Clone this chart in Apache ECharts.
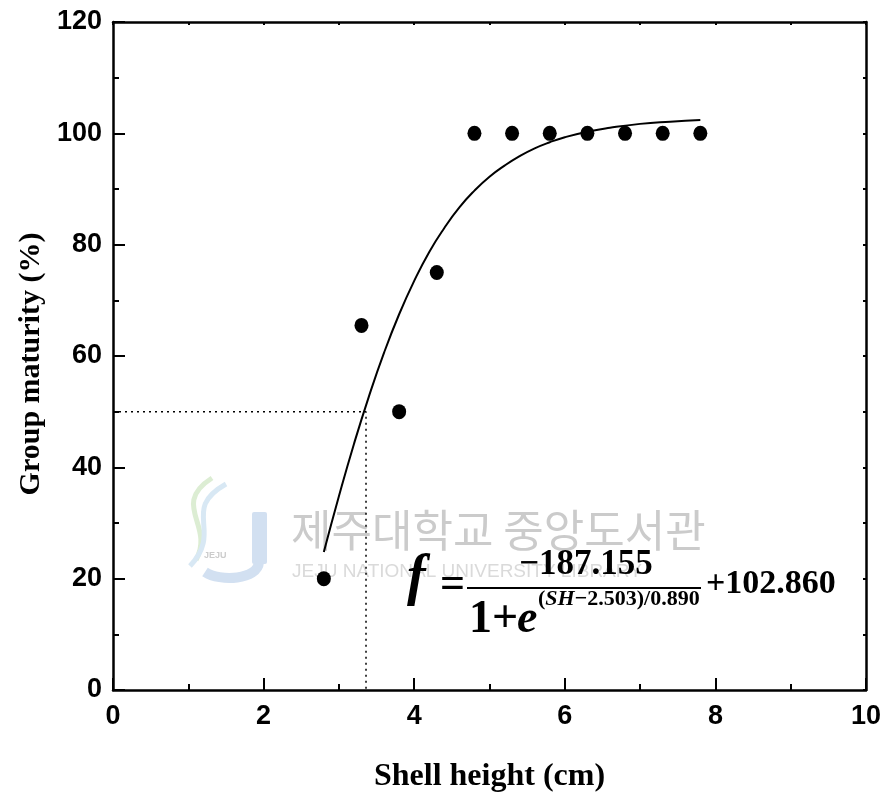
<!DOCTYPE html>
<html>
<head>
<meta charset="utf-8">
<script src="https://cdn.jsdelivr.net/npm/echarts@6/dist/echarts.min.js"></script>
<style>
  html, body { margin: 0; padding: 0; background: #fff; }
  #charts { width: 889px; height: 802px; }
</style>
</head>
<body>
<div id="charts"></div>
<script>
// observed points
var shellHeight = [2.8, 3.3, 3.8, 4.3, 4.8, 5.3, 5.8, 6.3, 6.8, 7.3, 7.8];
var maturity = [20, 65.5, 50, 75, 100, 100, 100, 100, 100, 100, 100];

// fitted curve
var curveX = [2.8, 3.0, 3.2, 3.4, 3.6, 3.8, 4.0, 4.2, 4.4, 4.6, 4.8, 5.0, 5.2, 5.4, 5.6, 5.8, 6.0, 6.3, 6.6, 7.0, 7.4, 7.8];
var curveY = [24.8, 34.8, 44.2, 52.8, 60.6, 67.5, 73.5, 78.7, 83.0, 86.7, 89.7, 92.2, 94.2, 95.9, 97.3, 98.4, 99.3, 100.3, 101.0, 101.7, 102.1, 102.4];

// 50% maturity guide
var guideX = [0, 3.36, 3.36];
var guideY = [50, 50, 0];

var pts = shellHeight.map(function (x, i) { return [x, maturity[i]]; });
var curve = curveX.map(function (x, i) { return [x, curveY[i]]; });
var guide = guideX.map(function (x, i) { return [x, guideY[i]]; });

var serif = '"Liberation Serif", "Times New Roman", serif';
var sans = '"Liberation Sans", Arial, sans-serif';

var myChart = echarts.init(document.getElementById('charts'));
var option = {
    animation: false,
    backgroundColor: '#fff',
    grid: {
        left: 113,
        right: 23,
        top: 22,
        bottom: 112,
        outerBoundsMode: 'none',
        containLabel: false
    },
    xAxis: [
        {
            type: 'value',
            min: 0,
            max: 10,
            interval: 2,
            name: 'Shell height (cm)',
            nameLocation: 'middle',
            nameGap: 71,
            nameTextStyle: { fontFamily: serif, fontWeight: 'bold', fontSize: 32, color: '#000' },
            axisLine: { onZero: false, lineStyle: { color: '#000', width: 2.5 } },
            axisTick: { inside: true, length: 12, lineStyle: { color: '#000', width: 2 } },
            minorTick: { show: true, splitNumber: 2, length: 6, lineStyle: { color: '#000', width: 2 } },
            axisLabel: { fontFamily: sans, fontWeight: 'bold', fontSize: 27, color: '#000', margin: 13 },
            splitLine: { show: false }
        },
        {
            type: 'value',
            position: 'top',
            min: 0,
            max: 10,
            interval: 1,
            axisLine: { onZero: false, lineStyle: { color: '#000', width: 2.5 } },
            axisTick: { inside: true, length: 3, lineStyle: { color: '#000', width: 2 } },
            axisLabel: { show: false },
            splitLine: { show: false }
        }
    ],
    yAxis: [
        {
            type: 'value',
            min: 0,
            max: 120,
            interval: 20,
            axisLine: { onZero: false, lineStyle: { color: '#000', width: 2.5 } },
            axisTick: { inside: true, length: 12, lineStyle: { color: '#000', width: 2 } },
            minorTick: { show: true, splitNumber: 2, length: 6, lineStyle: { color: '#000', width: 2 } },
            axisLabel: { fontFamily: sans, fontWeight: 'bold', fontSize: 27, color: '#000', margin: 11 },
            splitLine: { show: false }
        },
        {
            type: 'value',
            position: 'right',
            min: 0,
            max: 120,
            interval: 10,
            axisLine: { onZero: false, lineStyle: { color: '#000', width: 2.5 } },
            axisTick: { inside: true, length: 3, lineStyle: { color: '#000', width: 2 } },
            axisLabel: { show: false },
            splitLine: { show: false }
        }
    ],
    graphic: [
        // y axis title
        { type: 'text', x: 31, y: 364, rotation: Math.PI / 2,
          style: { text: 'Group maturity (%)', font: 'bold 30px ' + serif, fill: '#000',
                   align: 'center', verticalAlign: 'middle' } },
        // faint library watermark
        { type: 'rect', z: 0, silent: true,
          shape: { x: 252, y: 512, width: 15, height: 52, r: 2 },
          style: { fill: '#d2e0f1' } },
        { type: 'bezierCurve', z: 0, silent: true,
          shape: { x1: 259, y1: 562, x2: 205, y2: 572, cpx1: 258, cpy1: 580, cpx2: 220, cpy2: 582 },
          style: { stroke: '#d2e0f1', lineWidth: 10, fill: null } },
        { type: 'bezierCurve', z: 0, silent: true,
          shape: { x1: 212, y1: 478, x2: 196, y2: 560, cpx1: 170, cpy1: 505, cpx2: 215, cpy2: 525 },
          style: { stroke: '#dcedd3', lineWidth: 5, fill: null } },
        { type: 'bezierCurve', z: 0, silent: true,
          shape: { x1: 226, y1: 484, x2: 190, y2: 566, cpx1: 180, cpy1: 510, cpx2: 224, cpy2: 530 },
          style: { stroke: '#d8e8f4', lineWidth: 5, fill: null } },
        { type: 'text', left: 204, top: 551, z: 0, silent: true,
          style: { text: 'JEJU', font: 'bold 9px ' + sans, fill: '#cccccc' } },
        { type: 'text', left: 291, top: 508, z: 0, silent: true,
          style: { text: '제주대학교 중앙도서관', font: '44px "Noto Sans CJK KR"', fill: '#cbcbcb' } },
        { type: 'text', left: 292, top: 562, z: 0, silent: true,
          style: { text: 'JEJU NATIONAL UNIVERSITY LIBRARY', font: '19px ' + sans, fill: '#dadada' } },
        // formula
        { type: 'text', left: 407, top: 552, z: 10,
          style: { text: 'f', font: 'italic bold 56px ' + serif, fill: '#000' } },
        { type: 'text', left: 440, top: 564, z: 10,
          style: { text: '=', font: 'bold 44px ' + serif, fill: '#000' } },
        { type: 'text', x: 586, y: 547, z: 10,
          style: { text: '\u2212187.155', font: 'bold 35px ' + serif, fill: '#000', align: 'center' } },
        { type: 'line', z: 10,
          shape: { x1: 467, y1: 588, x2: 701, y2: 588 },
          style: { stroke: '#000', lineWidth: 2 } },
        { type: 'text', left: 469, top: 597, z: 10,
          style: { text: '1+', font: 'bold 46px ' + serif, fill: '#000' } },
        { type: 'text', left: 517, top: 597, z: 10,
          style: { text: 'e', font: 'italic bold 46px ' + serif, fill: '#000' } },
        { type: 'text', left: 538, top: 588, z: 10,
          style: {
              text: '{a|(}{b|SH}{a|\u22122.503)/0.890}',
              rich: {
                  a: { font: 'bold 22px ' + serif, fill: '#000' },
                  b: { font: 'italic bold 22px ' + serif, fill: '#000' }
              }
          } },
        { type: 'text', left: 706, top: 567, z: 10,
          style: { text: '+102.860', font: 'bold 34px ' + serif, fill: '#000' } }
    ],
    series: [
        {
            name: 'guide',
            type: 'line',
            data: guide,
            symbol: 'none',
            lineStyle: { color: '#000', width: 1.5, type: [2, 4] },
            z: 2
        },
        {
            name: 'fit',
            type: 'line',
            data: curve,
            smooth: true,
            symbol: 'none',
            lineStyle: { color: '#000', width: 2 },
            z: 3
        },
        {
            name: 'observed',
            type: 'scatter',
            data: pts,
            symbol: 'circle',
            symbolSize: [14, 15],
            itemStyle: { color: '#000', opacity: 1 },
            z: 4
        }
    ]
};
myChart.setOption(option);
</script>
</body>
</html>
